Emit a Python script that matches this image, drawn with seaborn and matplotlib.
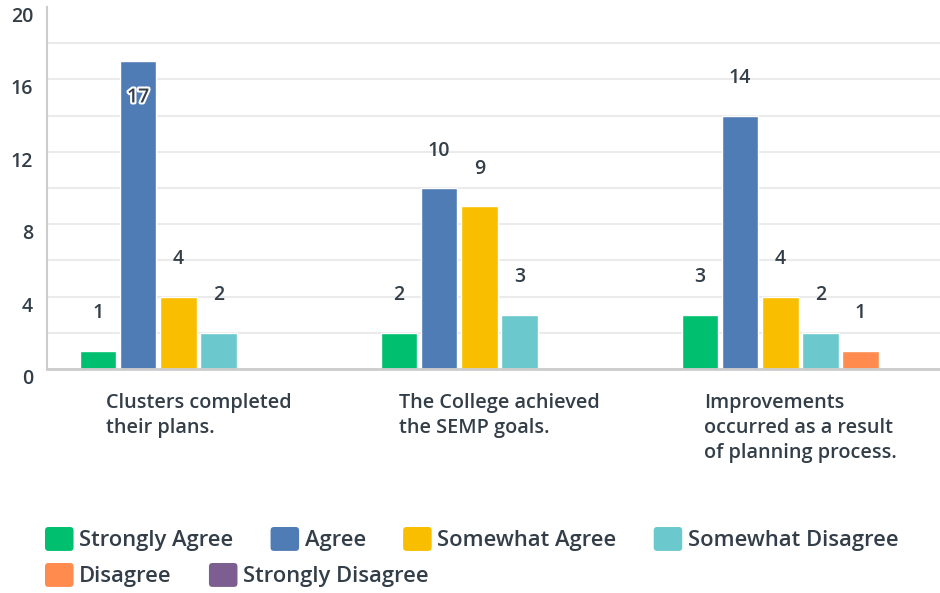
import matplotlib
matplotlib.use('Agg')
import matplotlib.pyplot as plt
import matplotlib.patheffects as pe
from matplotlib.legend_handler import HandlerPatch
from matplotlib.patches import FancyBboxPatch, Patch
import pandas as pd
import seaborn as sns

questions = ['Clusters completed\ntheir plans.',
             'The College achieved\nthe SEMP goals.',
             'Improvements\noccurred as a result\nof planning process.']
answers = ['Strongly Agree', 'Agree', 'Somewhat Agree',
           'Somewhat Disagree', 'Disagree', 'Strongly Disagree']
colors = ['#00bf6f', '#507cb6', '#f9be00', '#6bc8cd', '#ff8b4f', '#7d5e90']

strongly_agree = [1, 2, 3]
agree = [17, 10, 14]
somewhat_agree = [4, 9, 4]
somewhat_disagree = [2, 3, 2]
disagree = [0, 0, 1]
strongly_disagree = [0, 0, 0]

y_max = 20
text_color = '#333e48'

rows = []
for ans, vals in zip(answers, [strongly_agree, agree, somewhat_agree,
                               somewhat_disagree, disagree, strongly_disagree]):
    for q, v in zip(questions, vals):
        rows.append({'question': q, 'answer': ans, 'count': v})
df = pd.DataFrame(rows)

sns.set_style('white')
plt.rcParams['font.family'] = ['Open Sans', 'DejaVu Sans']

fig = plt.figure(figsize=(9.4, 5.93), dpi=100)
ax = fig.add_axes([47 / 940, 1 - 369 / 593, 893 / 940, 362 / 593])

sns.barplot(data=df, x='question', y='count', hue='answer', order=questions,
            hue_order=answers, palette=colors, saturation=1, width=0.8,
            gap=0.09, errorbar=None, legend=False, ax=ax)

# value labels, tall bars get their label inside
for cont in ax.containers:
    for bar, v in zip(cont.patches, cont.datavalues):
        if v == 0:
            continue
        x = bar.get_x() + bar.get_width() / 2
        if v >= 0.8 * y_max:
            ax.annotate(f'{v:g}', (x, v), xytext=(0, -26), textcoords='offset points',
                        ha='center', va='center', fontsize=14, fontweight='semibold',
                        color=text_color,
                        path_effects=[pe.withStroke(linewidth=3, foreground='white')])
        else:
            ax.annotate(f'{v:g}', (x, v), xytext=(0, 27), textcoords='offset points',
                        ha='center', va='center', fontsize=14, fontweight='semibold',
                        color=text_color)

ax.set_xlim(-0.503, 2.464)
ax.set_ylim(0, y_max)
ax.set_yticks(range(0, y_max + 1, 4))
ax.set_yticks(range(2, y_max, 4), minor=True)
ax.grid(axis='y', which='both', color='#ebebeb', linewidth=1.5)
ax.yaxis.get_gridlines()[-1].set_visible(False)
ax.set_axisbelow(True)
ax.tick_params(axis='y', which='both', length=0, pad=10, labelsize=14,
               labelcolor=text_color)
ax.tick_params(axis='x', length=0, pad=17, labelsize=14.3, labelcolor=text_color)
for lbl in ax.get_yticklabels():
    lbl.set_fontweight('semibold')
    lbl.set_va('top')
for lbl in ax.get_xticklabels():
    lbl.set_fontweight('semibold')
    lbl.set_multialignment('left')
    lbl.set_linespacing(1.36)
ax.set_xlabel('')
ax.set_ylabel('')

sns.despine(ax=ax)
ax.spines['left'].set_color('#cccccc')
ax.spines['left'].set_linewidth(1.5)
ax.spines['bottom'].set_color('#cccccc')
ax.spines['bottom'].set_linewidth(2)


def rounded_box(legend, orig_handle, xdescent, ydescent, width, height, fontsize):
    return FancyBboxPatch((-xdescent, -ydescent), width, height,
                          boxstyle='round,pad=0,rounding_size=2.5')


handles = [Patch(facecolor=c, edgecolor='none', label=a) for a, c in zip(answers, colors)]
leg_kw = dict(loc='upper left', frameon=False, handlelength=1.3,
              handleheight=1.3, handletextpad=0.25, columnspacing=1.7,
              borderpad=0, borderaxespad=0, labelcolor=text_color,
              prop={'size': 15.8, 'weight': 'semibold'},
              handler_map={Patch: HandlerPatch(patch_func=rounded_box)})
fig.legend(handles=handles[:4], ncol=4, bbox_to_anchor=(45 / 940, 1 - 527 / 593), **leg_kw)
fig.legend(handles=handles[4:], ncol=2, bbox_to_anchor=(45 / 940, 1 - 563 / 593), **leg_kw)

fig.savefig('out.png', dpi=100)
